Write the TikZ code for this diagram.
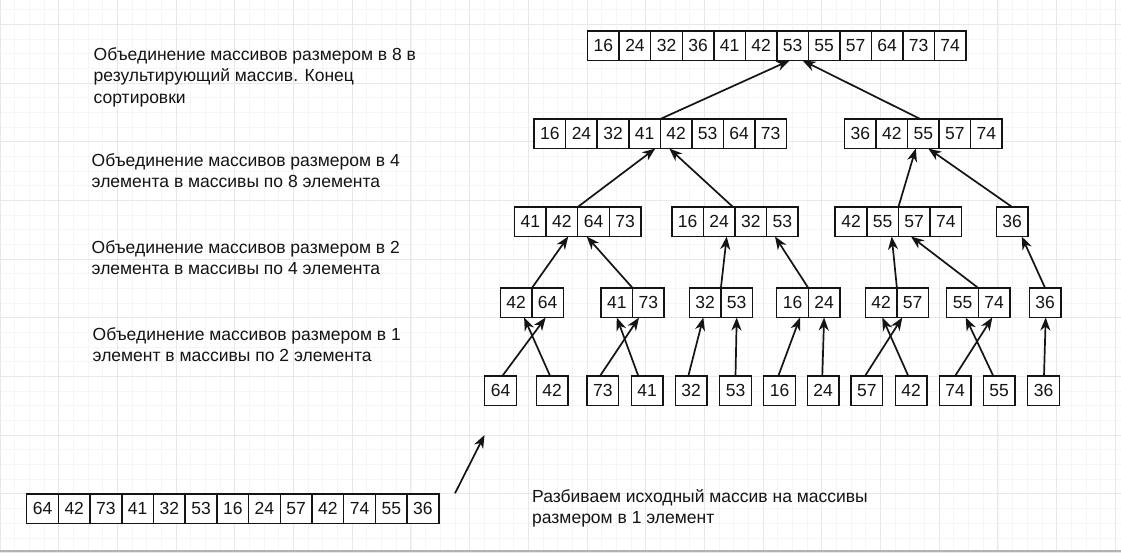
\documentclass[tikz,border=0pt]{standalone}
\usepackage{fontspec}
\setmainfont{Liberation Sans}
\usetikzlibrary{arrows.meta}
\definecolor{gmin}{RGB}{245,245,248}
\definecolor{gmaj}{RGB}{231,231,236}
\definecolor{ink}{RGB}{20,20,20}
\newcommand{\cellrow}[5]{%
  \foreach \v [count=\i] in {#5} {
    \node[cell, minimum width=#4pt] (#1-\i) at ({#2+(\i-1)*#4}, #3) {\v};
  }}
\begin{document}
\begin{tikzpicture}[x=1pt,y=-1pt,
  cell/.style={draw=ink, fill=white, line width=1.5pt, minimum height=29.5pt,
    inner sep=0pt, outer sep=0pt, anchor=north west, font=\fontsize{17.5}{20}\selectfont, text=ink},
  arr/.style={draw=ink, line width=1.7pt, -{Stealth[length=13pt,width=10pt,inset=4pt]}},
  lbl/.style={anchor=base west, inner sep=0pt, font=\fontsize{17.5}{21.5}\selectfont, text=ink}]
\useasboundingbox (0,0) rectangle (1121,552);
\fill[white] (0,0) rectangle (1121,552);
% grid
\foreach \k in {0,...,76} \draw[gmin, line width=0.8pt] ({\k*14.675},0) -- ({\k*14.675},552);
\foreach \k in {0,...,37} \draw[gmin, line width=0.8pt] (0,{9.6+\k*14.675}) -- (1121,{9.6+\k*14.675});
\foreach \k in {0,...,19} \draw[gmaj, line width=1pt] ({\k*58.7},0) -- ({\k*58.7},552);
\foreach \k in {0,...,9} \draw[gmaj, line width=1pt] (0,{24.3+\k*58.7}) -- (1121,{24.3+\k*58.7});
\draw[gray!60, line width=2pt] (0,551) -- (1121,551);

% labels
\node[lbl] (t1) at (93.5,60) {\vtop{\hbox{Объединение массивов размером в 8 в}\hbox{результирующий массив. Конец}\hbox{сортировки}}};
\node[lbl] (t2) at (91.5,166) {\vtop{\hbox{Объединение массивов размером в 4}\hbox{элемента в массивы по 8 элемента}}};
\node[lbl] (t3) at (91.5,253) {\vtop{\hbox{Объединение массивов размером в 2}\hbox{элемента в массивы по 4 элемента}}};
\node[lbl] (t4) at (92.5,340) {\vtop{\hbox{Объединение массивов размером в 1}\hbox{элемент в массивы по 2 элемента}}};
\node[lbl] (t5) at (532,502) {\vtop{\hbox{Разбиваем исходный массив на массивы}\hbox{размером в 1 элемент}}};

% arrays
\cellrow{T}{587.7}{31}{31.52}{16,24,32,36,41,42,53,55,57,64,73,74}
\cellrow{A8}{534.2}{119}{31.52}{16,24,32,41,42,53,64,73}
\cellrow{B8}{844.5}{119}{31.52}{36,42,55,57,74}
\cellrow{P4}{514.5}{207}{31.6}{41,42,64,73}
\cellrow{Q4}{671.8}{207}{31.6}{16,24,32,53}
\cellrow{R4}{835.2}{207}{31.6}{42,55,57,74}
\cellrow{S4}{996.3}{207}{31.6}{36}
\cellrow{a2}{500.3}{288}{31.6}{42,64}
\cellrow{b2}{601}{288}{31.6}{41,73}
\cellrow{c2}{689.3}{288}{31.6}{32,53}
\cellrow{d2}{776.7}{288}{31.6}{16,24}
\cellrow{e2}{865.3}{288}{31.6}{42,57}
\cellrow{f2}{946.7}{288}{31.6}{55,74}
\cellrow{g2}{1029.3}{288}{31.6}{36}
\cellrow{s1}{484.7}{376}{31.6}{64}
\cellrow{s2}{536.3}{376}{31.6}{42}
\cellrow{s3}{587}{376}{31.6}{73}
\cellrow{s4}{631.3}{376}{31.6}{41}
\cellrow{s5}{675.3}{376}{31.6}{32}
\cellrow{s6}{719.7}{376}{31.6}{53}
\cellrow{s7}{763.7}{376}{31.6}{16}
\cellrow{s8}{807.3}{376}{31.6}{24}
\cellrow{s9}{851}{376}{31.6}{57}
\cellrow{s10}{895.3}{376}{31.6}{42}
\cellrow{s11}{939.3}{376}{31.6}{74}
\cellrow{s12}{983.3}{376}{31.6}{55}
\cellrow{s13}{1027.7}{376}{31.6}{36}
\cellrow{O}{26.7}{494}{31.7}{64,42,73,41,32,53,16,24,57,42,74,55,36}

% level 8 -> final
\draw[arr] (A8-4.north east) -- ([xshift=-3pt]T-7.south);
\draw[arr] ([xshift=-3pt]B8-3.north) -- ([xshift=10pt]T-7.south);
% level 4 -> level 8
\draw[arr] (P4-2.north east) -- ([xshift=-5pt]A8-4.south east);
\draw[arr] ([xshift=-2pt]Q4-2.north east) -- ([xshift=9pt]A8-4.south east);
\draw[arr] (R4-2.north east) -- ([xshift=-7.5pt]B8-3.south);
\draw[arr] (S4-1.north) -- ([xshift=5pt]B8-3.south);
% level 2 -> level 4
\draw[arr] (a2-1.north east) -- ([xshift=-9.4pt]P4-2.south east);
\draw[arr] (b2-1.north east) -- ([xshift=9pt]P4-3.south west);
\draw[arr] (c2-1.north east) -- ([xshift=7.5pt]Q4-2.south);
\draw[arr] (d2-1.north east) -- ([xshift=8.4pt]Q4-4.south west);
\draw[arr] (e2-1.north east) -- ([xshift=-6.7pt]R4-2.south east);
\draw[arr] (f2-1.north east) -- ([xshift=12.6pt]R4-3.south west);
\draw[arr] (g2-1.north) -- ([xshift=9.6pt]S4-1.south);
% level 1 -> level 2
\draw[arr] ([xshift=1.8pt]s1-1.north) -- ([xshift=-2pt]a2-2.south);
\draw[arr] ([xshift=-2pt]s2-1.north) -- ([xshift=8pt]a2-1.south);
\draw[arr] ([xshift=-2.8pt]s3-1.north) -- ([xshift=-9.4pt]b2-2.south);
\draw[arr] ([xshift=-8.8pt]s4-1.north) -- (b2-1.south);
\draw[arr] ([xshift=-2.8pt]s5-1.north) -- ([xshift=-1.8pt]c2-1.south);
\draw[arr] (s6-1.north) -- (c2-2.south);
\draw[arr] ([xshift=-1.2pt]s7-1.north) -- ([xshift=7.5pt]d2-1.south);
\draw[arr] ([xshift=-0.8pt]s8-1.north) -- (d2-2.south);
\draw[arr] ([xshift=-1.8pt]s9-1.north) -- ([xshift=-10.4pt]e2-2.south);
\draw[arr] ([xshift=-2.8pt]s10-1.north) -- ([xshift=1.2pt]e2-1.south);
\draw[arr] (s11-1.north) -- ([xshift=-1.8pt]f2-2.south);
\draw[arr] ([xshift=-5.8pt]s12-1.north) -- ([xshift=3.2pt]f2-1.south);
\draw[arr] ([xshift=0.5pt]s13-1.north) -- ([xshift=0.6pt]g2-1.south);
% split arrow
\coordinate (fa) at (455,493.3);
\coordinate (fb) at (484.5,435);
\draw[arr] (fa) -- (fb);
\end{tikzpicture}
\end{document}
